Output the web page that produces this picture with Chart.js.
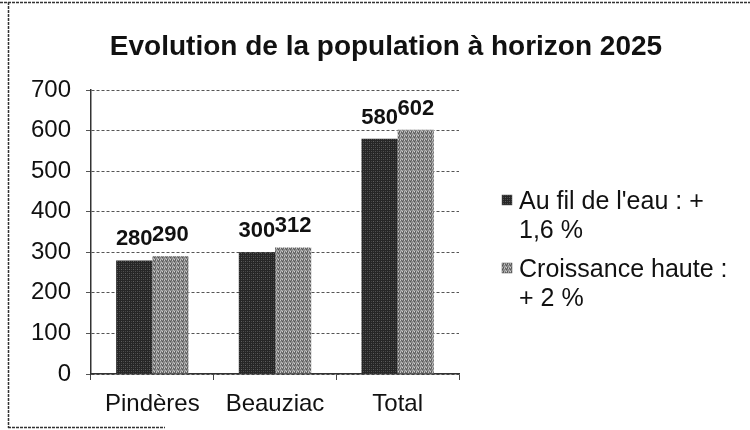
<!DOCTYPE html>
<html>
<head>
<meta charset="utf-8">
<script src="https://cdn.jsdelivr.net/npm/chart.js@4/dist/chart.umd.min.js"></script>
<style>
  html, body { margin: 0; padding: 0; background: #fff; }
  #wrap { width: 750px; height: 430px; position: relative; }
</style>
</head>
<body>
<div id="wrap"><canvas id="c" width="750" height="430"></canvas></div>
<script>
// ---- data ----
const categories = ["Pindères", "Beauziac", "Total"];
const seriesFilDeLEau = [280, 300, 580];
const seriesCroissanceHaute = [290, 312, 602];
const seriesNames = [["Au fil de l'eau : +", "1,6 %"], ["Croissance haute :", "+ 2 %"]];
const yTicks = [0, 100, 200, 300, 400, 500, 600, 700];
const chartTitle = "Evolution de la population à horizon 2025";

const FONT = "'Liberation Sans', Arial, sans-serif";

function makePattern(base, dots) {
  const c = document.createElement('canvas');
  c.width = 4; c.height = 4;
  const g = c.getContext('2d');
  g.fillStyle = base; g.fillRect(0, 0, 4, 4);
  dots.forEach(d => { g.fillStyle = d[2]; g.fillRect(d[0], d[1], 1, 1); });
  return g.createPattern(c, 'repeat');
}
const darkPat = makePattern('#262626', [[1,1,'#5e5e5e'],[3,1,'#444'],[1,3,'#444'],[3,3,'#505050']]);
const lightPat = makePattern('#8a8a8a', [[0,0,'#c4c4c4'],[2,1,'#555'],[1,2,'#b8b8b8'],[3,3,'#5a5a5a'],[3,0,'#666'],[0,3,'#aaa'],[2,3,'#d0d0d0'],[1,0,'#606060']]);
const patterns = [darkPat, lightPat];

const frame = {
  id: 'frame',
  beforeDraw(chart) {
    const ctx = chart.ctx;
    ctx.save();
    ctx.fillStyle = '#fff';
    ctx.fillRect(0, 0, chart.width, chart.height);
    ctx.strokeStyle = '#333';
    ctx.lineWidth = 1.5;
    ctx.setLineDash([3, 1]);
    ctx.beginPath();
    ctx.moveTo(0, 2.5); ctx.lineTo(750, 2.5);
    ctx.moveTo(8.5, 2); ctx.lineTo(8.5, 428);
    ctx.moveTo(8, 427.5); ctx.lineTo(165, 427.5);
    ctx.stroke();
    ctx.restore();
  }
};

const valueLabels = {
  id: 'valueLabels',
  afterDatasetsDraw(chart) {
    const ctx = chart.ctx;
    ctx.save();
    ctx.font = "bold 22px " + FONT;
    ctx.fillStyle = '#111';
    ctx.textAlign = 'center';
    ctx.textBaseline = 'alphabetic';
    chart.data.datasets.forEach((ds, i) => {
      const meta = chart.getDatasetMeta(i);
      meta.data.forEach((el, j) => {
        ctx.fillText(String(ds.data[j]), el.x, el.y - 15);
      });
    });
    ctx.restore();
  }
};

const sideLegend = {
  id: 'sideLegend',
  afterDraw(chart) {
    const ctx = chart.ctx;
    ctx.save();
    ctx.font = "25px " + FONT;
    ctx.fillStyle = '#111';
    ctx.textBaseline = 'alphabetic';
    const starts = [209, 277];
    chart.data.datasets.forEach((ds, i) => {
      const y0 = starts[i];
      ctx.fillStyle = patterns[i];
      ctx.fillRect(502, y0 - 14, 10, 10);
      ctx.strokeStyle = '#555'; ctx.lineWidth = 0.5;
      ctx.strokeRect(502, y0 - 14, 10, 10);
      ctx.fillStyle = '#111';
      seriesNames[i].forEach((line, k) => {
        ctx.fillText(line, 519, y0 + k * 29);
      });
    });
    ctx.restore();
  }
};

new Chart(document.getElementById('c'), {
  type: 'bar',
  data: {
    labels: categories,
    datasets: [
      { label: seriesNames[0].join(' '), data: seriesFilDeLEau, backgroundColor: darkPat, borderWidth: 0 },
      { label: seriesNames[1].join(' '), data: seriesCroissanceHaute, backgroundColor: lightPat, borderWidth: 0 }
    ]
  },
  options: {
    responsive: false,
    animation: false,
    events: [],
    layout: { padding: { left: 22, right: 0, top: 0, bottom: 0 } },
    datasets: { bar: { categoryPercentage: 0.59, barPercentage: 1.0 } },
    plugins: {
      legend: { display: false },
      tooltip: { enabled: false },
      title: {
        display: true,
        text: chartTitle,
        color: '#111',
        font: { family: FONT, size: 28, weight: 'bold', lineHeight: 1.2 },
        padding: { top: 30, bottom: 26.4 }
      }
    },
    scales: {
      x: {
        offset: true,
        grid: { display: true, drawOnChartArea: false, drawTicks: true, tickLength: 6, color: '#444', offset: true },
        border: { display: true, color: '#333', width: 1.5 },
        ticks: { color: '#111', font: { family: FONT, size: 24 }, padding: 10 },
        afterFit(s) { s.height = 56; }
      },
      y: {
        min: 0, max: 700,
        afterBuildTicks(s) { s.ticks = yTicks.map(v => ({ value: v })); },
        grid: { color: '#555', lineWidth: 1, tickLength: 5 },
        border: { display: true, color: '#333', width: 1.5, dash: [3, 2] },
        ticks: { color: '#111', font: { family: FONT, size: 24 }, padding: 15 },
        afterFit(s) { s.width = 69; }
      },
      yRight: {
        position: 'right',
        display: true,
        grid: { display: false },
        border: { display: false },
        ticks: { display: false },
        afterFit(s) { s.width = 750 - 459; }
      }
    }
  },
  plugins: [frame, valueLabels, sideLegend]
});
</script>
</body>
</html>
